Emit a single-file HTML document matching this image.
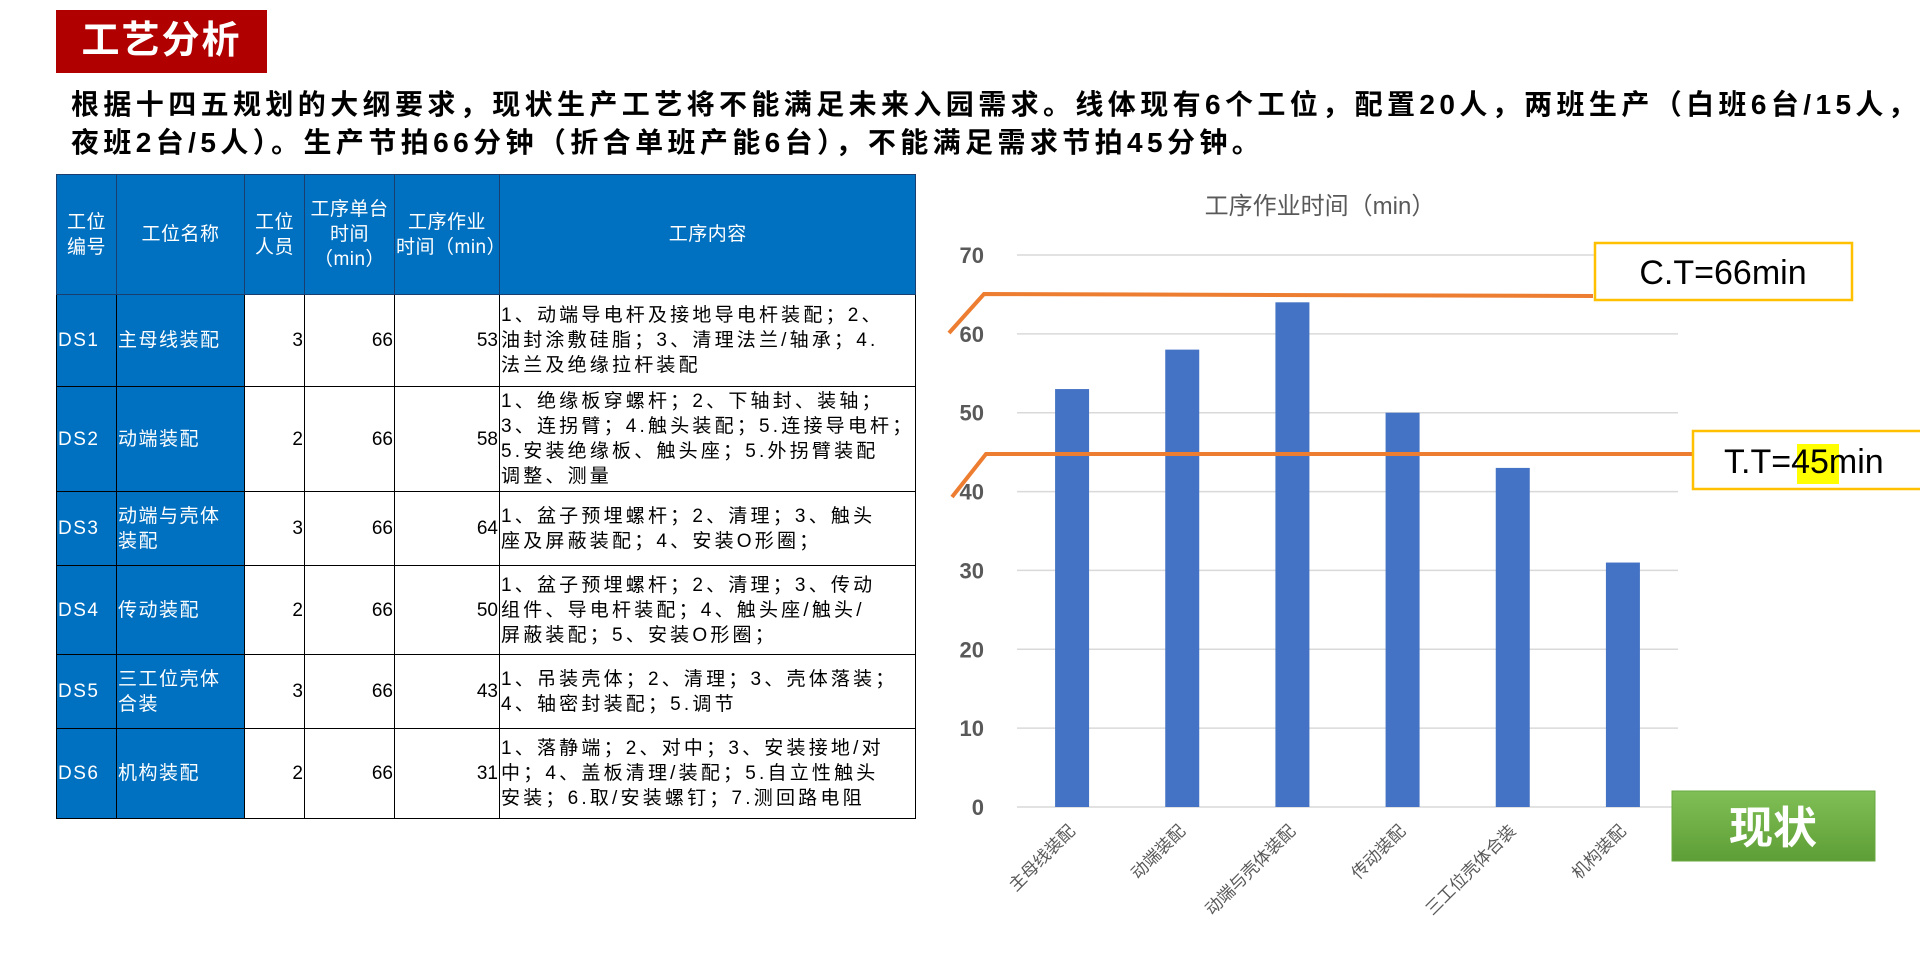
<!DOCTYPE html>
<html><head><meta charset="utf-8">
<style>
body{margin:0;width:1920px;height:961px;background:#fff;position:relative;overflow:hidden;font-family:"Liberation Sans","Noto Sans CJK SC",sans-serif;}
#title{position:absolute;left:56px;top:10px;width:211px;height:63px;background:#b00000;color:#fff;font-weight:bold;font-size:38px;letter-spacing:2px;line-height:63px;text-align:center;}
#para{position:absolute;left:71px;top:86px;width:1850px;font-weight:bold;font-size:28px;letter-spacing:4.4px;line-height:38px;color:#000;white-space:nowrap;}
table{position:absolute;left:56px;top:174px;border-collapse:collapse;table-layout:fixed;font-size:19px;letter-spacing:1.5px;}
td{border:1.5px solid #000;padding:0 1px;overflow:hidden;color:#000;line-height:25px;}
td.b{background:#0070c0;color:#fff;}
tr.h td{background:#0070c0;color:#fff;text-align:center;border-color:#1a3f6f;letter-spacing:0.5px;}
td.n{text-align:right;letter-spacing:0;}
td.c{font-size:19px;white-space:nowrap;letter-spacing:3.2px;}
</style></head><body>
<div id="title">工艺分析</div>
<div id="para">根据十四五规划的大纲要求，现状生产工艺将不能满足未来入园需求。线体现有6个工位，配置20人，两班生产（白班6台/15人，<br>夜班2台/5人）。生产节拍66分钟（折合单班产能6台），不能满足需求节拍45分钟。</div>
<table>
<colgroup><col style="width:60px"><col style="width:128px"><col style="width:60px"><col style="width:90px"><col style="width:105px"><col style="width:379px"></colgroup>
<tr class="h" style="height:120px"><td>工位<br>编号</td><td>工位名称</td><td>工位<br>人员</td><td>工序单台<br>时间<br>（min）</td><td>工序作业<br>时间（min）</td><td>工序内容</td></tr>
<tr style="height:92px"><td class="b">DS1</td><td class="b">主母线装配</td><td class="n">3</td><td class="n">66</td><td class="n">53</td><td class="c">1、动端导电杆及接地导电杆装配；2、<br>油封涂敷硅脂；3、清理法兰/轴承；4.<br>法兰及绝缘拉杆装配</td></tr>
<tr style="height:105px"><td class="b">DS2</td><td class="b">动端装配</td><td class="n">2</td><td class="n">66</td><td class="n">58</td><td class="c">1、绝缘板穿螺杆；2、下轴封、装轴；<br>3、连拐臂；4.触头装配；5.连接导电杆；<br>5.安装绝缘板、触头座；5.外拐臂装配<br>调整、测量</td></tr>
<tr style="height:74px"><td class="b">DS3</td><td class="b">动端与壳体<br>装配</td><td class="n">3</td><td class="n">66</td><td class="n">64</td><td class="c">1、盆子预埋螺杆；2、清理；3、触头<br>座及屏蔽装配；4、安装O形圈；</td></tr>
<tr style="height:89px"><td class="b">DS4</td><td class="b">传动装配</td><td class="n">2</td><td class="n">66</td><td class="n">50</td><td class="c">1、盆子预埋螺杆；2、清理；3、传动<br>组件、导电杆装配；4、触头座/触头/<br>屏蔽装配；5、安装O形圈；</td></tr>
<tr style="height:74px"><td class="b">DS5</td><td class="b">三工位壳体<br>合装</td><td class="n">3</td><td class="n">66</td><td class="n">43</td><td class="c">1、吊装壳体；2、清理；3、壳体落装；<br>4、轴密封装配；5.调节</td></tr>
<tr style="height:90px"><td class="b">DS6</td><td class="b">机构装配</td><td class="n">2</td><td class="n">66</td><td class="n">31</td><td class="c">1、落静端；2、对中；3、安装接地/对<br>中；4、盖板清理/装配；5.自立性触头<br>安装；6.取/安装螺钉；7.测回路电阻</td></tr>
</table>

<svg id="chart" width="1920" height="961" style="position:absolute;left:0;top:0">
<text x="1320" y="214" text-anchor="middle" font-size="24" fill="#595959">工序作业时间（min）</text>
<g id="grid"></g><g id="bars"></g><g id="xl"></g><g id="yl"></g>
<polyline points="949,333 984,294 1593,296" fill="none" stroke="#ed7d31" stroke-width="4"/>
<polyline points="952,497 986,454 1693,454" fill="none" stroke="#ed7d31" stroke-width="4"/>
<rect x="1595" y="243" width="257" height="57" fill="#fff" stroke="#ffc000" stroke-width="2.5"/>
<text x="1723" y="284" text-anchor="middle" font-size="34" fill="#000">C.T=66min</text>
<rect x="1693" y="431" width="240" height="58" fill="#fff" stroke="#ffc000" stroke-width="2.5"/>
<rect x="1797" y="444" width="42" height="40" fill="#ffff00"/>
<text x="1724" y="473" font-size="34" fill="#000">T.T=45min</text>
<defs><linearGradient id="gg" x1="0" y1="0" x2="0" y2="1"><stop offset="0" stop-color="#7fbf55"/><stop offset="1" stop-color="#5e9e36"/></linearGradient></defs>
<rect x="1672" y="791" width="203" height="70" fill="url(#gg)" stroke="#6aa842"/>
<text x="1773" y="843" text-anchor="middle" font-size="44" font-weight="bold" fill="#fff">现状</text>
</svg>
<script>
const categories=["主母线装配","动端装配","动端与壳体装配","传动装配","三工位壳体合装","机构装配"];
const values=[53,58,64,50,43,31];
const yTicks=[0,10,20,30,40,50,60,70];
const NS="http://www.w3.org/2000/svg";
const x0=1017,x1=1678,y0=807,y70=255;
const ys=v=>y0-(v/70)*(y0-y70);
const band=(x1-x0)/categories.length;
const xs=i=>x0+band*(i+0.5);
function mk(t,a,p){const e=document.createElementNS(NS,t);for(const k in a)e.setAttribute(k,a[k]);document.getElementById(p).appendChild(e);return e;}
yTicks.forEach(v=>{
 const l=mk("line",{x1:x0,x2:x1,y1:ys(v),y2:ys(v),stroke:"#d9d9d9","stroke-width":1.5},"grid");
 
 
 const t=mk("text",{x:984,y:ys(v)+8,"text-anchor":"end","font-size":22,"font-weight":"bold",fill:"#595959"},"yl");
 t.textContent=v;
 
 
});
values.forEach((v,i)=>{
 const r=mk("rect",{x:xs(i)-17,y:ys(v),width:34,height:y0-ys(v),fill:"#4472c4"},"bars");
 
 
});
categories.forEach((c,i)=>{
 const t=mk("text",{x:xs(i)+4,y:832,"text-anchor":"end","font-size":17,fill:"#595959",transform:`rotate(-45 ${xs(i)+4} 832)`},"xl");
 t.textContent=c;
 
 
});
</script>
</body></html>
